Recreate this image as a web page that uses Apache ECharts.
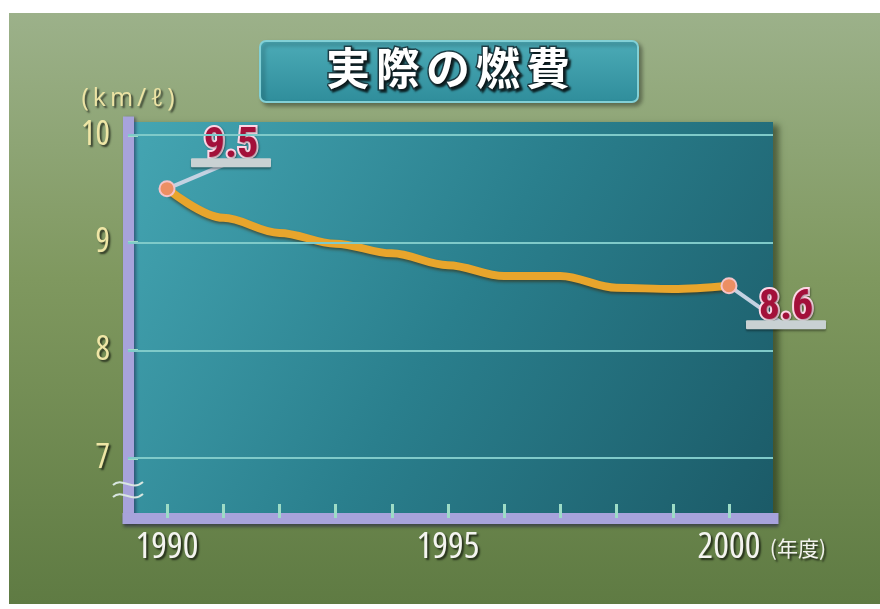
<!DOCTYPE html>
<html><head><meta charset="utf-8">
<script src="https://cdn.jsdelivr.net/npm/echarts@6/dist/echarts.min.js"></script>
<style>
html,body{margin:0;padding:0;background:#fff;}
#c{width:880px;height:609px;background:linear-gradient(180deg,#9cb18a 0%,#7f985f 45%,#5f7b43 100%) 9px 13px / 871px 591px no-repeat,#fff;}
</style>
</head><body><div id="c"></div>
<script>
// ---- data ----
const titleText = '実際の燃費';
const unitLabel = '(km/ℓ)';
const yearUnit = '(年度)';
const years = [1990, 1991, 1992, 1993, 1994, 1995, 1996, 1997, 1998, 1999, 2000];
const mileage = [9.5, 9.23, 9.09, 8.99, 8.9, 8.79, 8.69, 8.69, 8.58, 8.57, 8.6];
const yTicks = [7, 8, 9, 10];
const xLabelYears = [1990, 1995, 2000];

// ---- chart ----
const STRETCH = 'condensed';
const last = years.length - 1;
const chart = echarts.init(document.getElementById('c'));
const spaced = s => Array.from(s).map(ch => '{c|' + ch + '}').join('');

const richLabel = {
  v: {fontFamily: "Roboto,sans-serif", fontStyle: STRETCH, fontSize: 42, fontWeight: 'bold', color: '#a3103a',
      textBorderColor: '#ffd8e8', textBorderWidth: 4, lineHeight: 24,
      textShadowColor: 'rgba(0,0,0,0.35)', textShadowBlur: 2, textShadowOffsetX: 1, textShadowOffsetY: 1},
  s: {width: 80, height: 9, backgroundColor: '#c9d1d3', borderRadius: 1,
      shadowColor: 'rgba(0,0,0,0.35)', shadowBlur: 2, shadowOffsetY: 2}
};
function endLabel(offset) {
  return {
    show: true, position: 'inside', offset: offset,
    formatter: p => '{v|' + p.value[1].toFixed(1) + '}\n{s|}',
    rich: richLabel
  };
}

const seriesData = years.map((y, i) => {
  const item = {value: [y, mileage[i]]};
  if (i === 0) item.label = endLabel([64, -38]);
  if (i === last) item.label = endLabel([57, 27]);
  return item;
});

const txtShadow = {textShadowColor: 'rgba(0,0,0,0.65)', textShadowBlur: 2, textShadowOffsetX: 2, textShadowOffsetY: 2};

chart.setOption({
  animation: false,
  title: {
    text: spaced(titleText), left: 448, top: 45, textAlign: 'center', padding: 0, z: 20,
    textStyle: {rich: {c: Object.assign({fontFamily: "'Noto Sans CJK JP',sans-serif", fontSize: 44, fontWeight: 'bold',
      color: '#ffffff', textBorderColor: '#1d3c44', textBorderWidth: 3, padding: [0, 3], lineHeight: 46}, txtShadow)}}
  },
  grid: {
    left: 128, right: 107, top: 122, bottom: 91, show: true, borderWidth: 0,
    backgroundColor: {type: 'linear', x: 0, y: 0, x2: 1, y2: 1,
      colorStops: [{offset: 0, color: '#45a6b3'}, {offset: 0.5, color: '#2a7f8d'}, {offset: 1, color: '#1b5a67'}]},
    shadowColor: 'rgba(20,30,10,0.5)', shadowBlur: 6, shadowOffsetX: 6, shadowOffsetY: 3
  },
  graphic: [
    {type: 'rect', z: 1, shape: {x: 260, y: 41, width: 378, height: 61, r: 6},
     style: {fill: {type: 'linear', x: 0, y: 0, x2: 0, y2: 1,
       colorStops: [{offset: 0, color: '#4cabb7'}, {offset: 1, color: '#2f8d9b'}]},
       stroke: '#82d0d6', lineWidth: 2, shadowColor: 'rgba(0,0,0,0.35)', shadowBlur: 4, shadowOffsetX: 3, shadowOffsetY: 3}},
    {type: 'bezierCurve', z: 5, shape: {x1: 113, y1: 485, cpx1: 122, cpy1: 476, cpx2: 132, cpy2: 492, x2: 143, y2: 482},
     style: {stroke: '#d8e6e0', lineWidth: 2, fill: null}},
    {type: 'bezierCurve', z: 5, shape: {x1: 113, y1: 497, cpx1: 122, cpy1: 488, cpx2: 132, cpy2: 504, x2: 143, y2: 494},
     style: {stroke: '#d8e6e0', lineWidth: 2, fill: null}}
  ],
  xAxis: {
    type: 'value', min: 1989.306, max: 2000.783,
    name: '\n' + yearUnit, nameLocation: 'end', nameGap: 53,
    nameTextStyle: Object.assign({color: '#f2f2ee', fontSize: 21, lineHeight: 60, align: 'right',
      fontFamily: "'Noto Sans CJK JP',sans-serif"}, txtShadow),
    axisLine: {lineStyle: {color: '#a7a3db', width: 11, cap: 'square',
      shadowColor: 'rgba(30,20,70,0.5)', shadowBlur: 3, shadowOffsetY: 3}},
    axisTick: {show: true, inside: true, length: 14, customValues: years,
      lineStyle: {color: '#9ddcc6', width: 3}},
    axisLabel: Object.assign({customValues: xLabelYears, formatter: v => String(v), margin: 11,
      color: '#f4f4f0', fontSize: 37, fontFamily: "'Open Sans',sans-serif", fontStyle: STRETCH}, txtShadow),
    splitLine: {show: false}
  },
  yAxis: {
    type: 'value', min: 6.444, max: 10.119,
    name: spaced(unitLabel), nameLocation: 'end', nameGap: 11,
    nameTextStyle: {align: 'center', rich: {c: Object.assign({color: '#ece3a4', fontSize: 25,
      fontFamily: "'Open Sans',sans-serif", padding: [0, 2]}, txtShadow)}},
    axisLine: {show: true, lineStyle: {color: '#a7a3db', width: 11, cap: 'square',
      shadowColor: 'rgba(30,20,70,0.5)', shadowBlur: 3, shadowOffsetX: 2}},
    axisTick: {show: true, inside: true, length: 10, customValues: yTicks,
      lineStyle: {color: '#9ddcc6', width: 3}},
    axisLabel: Object.assign({customValues: yTicks, formatter: v => String(v), margin: 18,
      color: '#efe6a6', fontSize: 34, fontFamily: "'Open Sans',sans-serif", fontStyle: STRETCH}, txtShadow),
    splitLine: {show: false}
  },
  series: [{
    type: 'line', smooth: 0.35, smoothMonotone: 'x',
    data: seriesData,
    symbol: 'circle',
    symbolSize: (v, p) => (p.dataIndex === 0 || p.dataIndex === last) ? 15 : 0,
    itemStyle: {color: '#ec8f63', borderColor: '#f5c3c8', borderWidth: 2},
    lineStyle: {color: '#e8a52c', width: 8, shadowColor: 'rgba(60,35,0,0.55)', shadowBlur: 3, shadowOffsetY: 2},
    label: {show: false},
    labelLine: {show: true, lineStyle: {color: '#c4d2e2', width: 4}},
    emphasis: {disabled: true},
    markLine: {
      silent: true, symbol: 'none', label: {show: false}, animation: false,
      lineStyle: {color: '#7fcac9', width: 2, type: 'solid'},
      data: yTicks.map(v => ({yAxis: v}))
    }
  }]
});
</script>
</body></html>
